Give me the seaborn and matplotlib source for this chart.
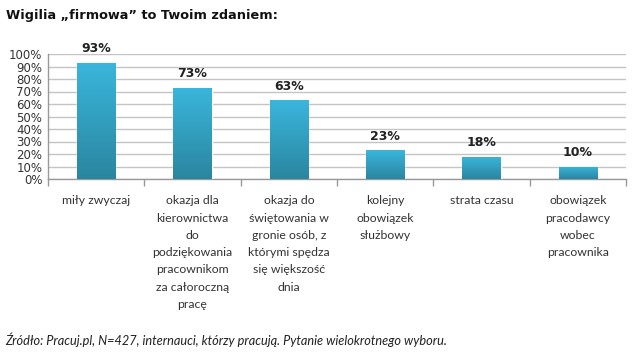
import numpy as np
import pandas as pd
import seaborn as sns
from matplotlib import pyplot as plt
from matplotlib.colors import LinearSegmentedColormap

categories = ["miły zwyczaj",
              "okazja dla\nkierownictwa\ndo\npodziękowania\npracownikom\nza całoroczną\npracę",
              "okazja do\nświętowania w\ngronie osób, z\nktórymi spędza\nsię większość\ndnia",
              "kolejny\nobowiązek\nsłużbowy",
              "strata czasu",
              "obowiązek\npracodawcy\nwobec\npracownika"]
values = [93, 73, 63, 23, 18, 10]
yticks = [0, 10, 20, 30, 40, 50, 60, 70, 80, 90, 100]

df = pd.DataFrame({"cat": categories, "val": values})

sns.set_style("white")
plt.rcParams['font.family'] = ['DejaVu Sans']

fig = plt.figure(figsize=(6.32, 3.56), dpi=100)
ax = fig.add_axes([48/632, (356-179)/356, (626-48)/632, 125/356])

sns.barplot(data=df, x="cat", y="val", color="#33a8cc", width=0.4, ax=ax,
            zorder=3, saturation=1)

# vertical gradient on bars
cmap = LinearSegmentedColormap.from_list("bar", ["#2a86a0", "#3ab6dc"])
grad = np.linspace(0, 1, 256).reshape(-1, 1)
for p in ax.patches:
    x0, y0 = p.get_x(), p.get_y()
    w, h = p.get_width(), p.get_height()
    im = ax.imshow(grad, cmap=cmap, aspect="auto", origin="lower",
                   extent=[x0, x0 + w, y0, y0 + h], zorder=4)
    im.set_clip_path(p)
    ax.text(x0 + w/2, y0 + h + 6, "%d%%" % h, ha="center", va="bottom",
            fontsize=9, fontweight="bold", color="#222222")

ax.set_xlim(-0.5, len(categories) - 0.5)
ax.set_ylim(0, 100)
ax.set_yticks(yticks)
ax.set_yticklabels(["%d%%" % t for t in yticks], fontsize=8.5, color="#333333")
ax.yaxis.grid(True, color="#c4c4c4", linewidth=1)
ax.set_axisbelow(True)

ax.set_xticks(np.arange(-0.5, len(categories), 1))
ax.set_xticklabels([])
ax.tick_params(axis="x", length=5, color="#999999", width=1, bottom=True)
ax.tick_params(axis="y", length=0, pad=4)
for i, c in enumerate(categories):
    ax.text(i, -13, c, ha="center", va="top", fontsize=8.8, family="Lato",
            color="#333333", linespacing=1.7)

ax.set_xlabel("")
ax.set_ylabel("")
for s in ["top", "right"]:
    ax.spines[s].set_visible(False)
for s in ["left", "bottom"]:
    ax.spines[s].set_color("#999999")
    ax.spines[s].set_linewidth(1)

fig.text(6/632, 1 - 15/356, "Wigilia „firmowa” to Twoim zdaniem:", fontsize=9.3,
         fontweight="bold", va="center", ha="left", color="#111111")
fig.text(5/632, 1 - 340/356,
         "Źródło: Pracuj.pl, N=427, internauci, którzy pracują. Pytanie wielokrotnego wyboru.",
         fontsize=9.2, style="italic", family="Lato", va="center", ha="left",
         color="#222222")

plt.savefig("out.png", dpi=100)
